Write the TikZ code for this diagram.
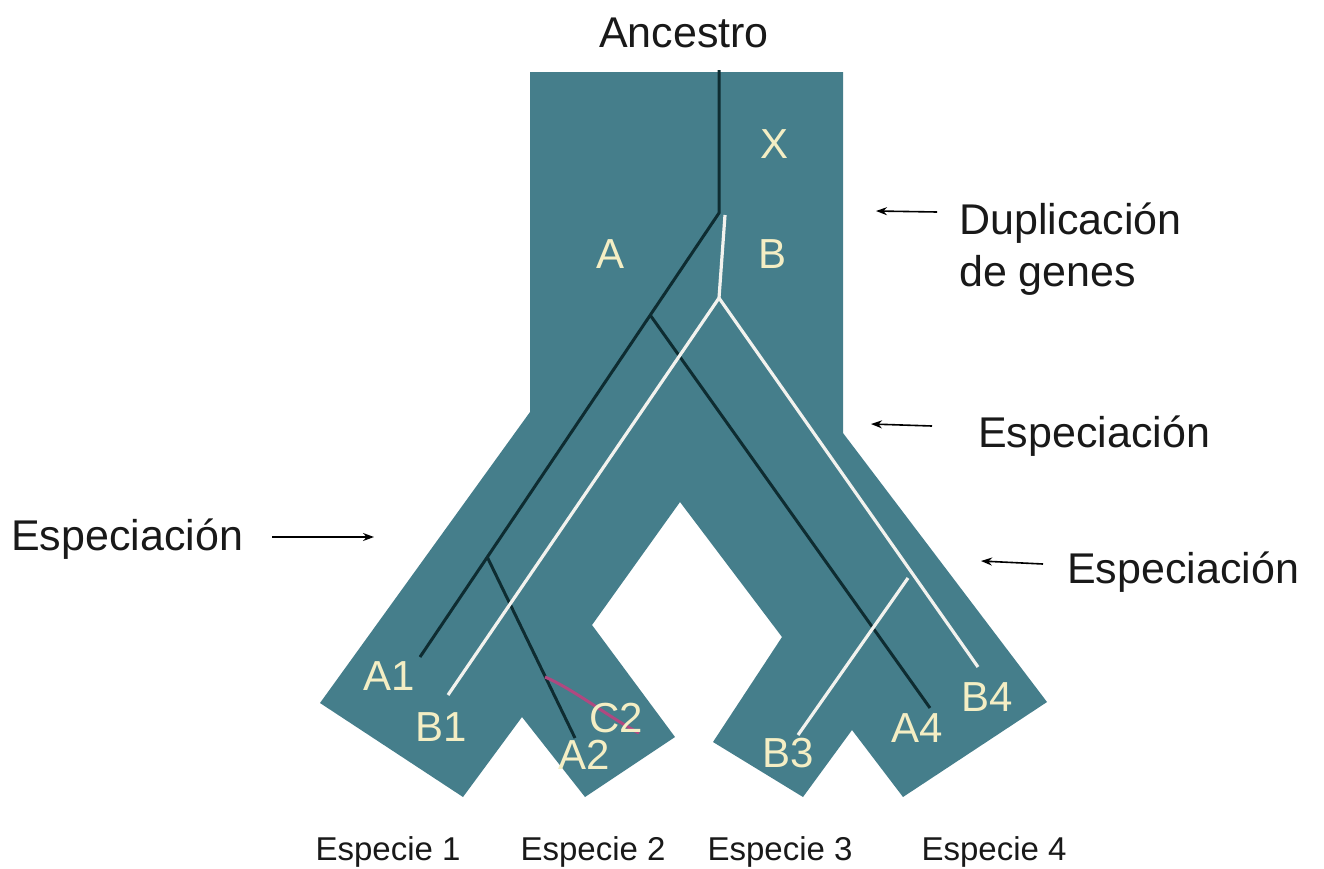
\documentclass[tikz,border=0pt]{standalone}
\usepackage{fontspec}
\setmainfont{Liberation Sans}
\usetikzlibrary{arrows.meta,calc}

\definecolor{branchteal}{HTML}{457E8B}
\definecolor{genedark}{HTML}{0E2C31}
\definecolor{genelight}{HTML}{F2F2EE}
\definecolor{labelcream}{HTML}{F4EEC4}
\definecolor{geneplum}{HTML}{B04880}

\tikzset{
  bigtext/.style={font=\fontsize{43}{50}\selectfont, inner sep=0pt, text=black!90},
  smalltext/.style={font=\fontsize{33}{40}\selectfont, inner sep=0pt, text=black!90},
  genelabel/.style={font=\fontsize{42}{48}\selectfont, inner sep=0pt, text=labelcream},
  darkgene/.style={draw=genedark, line width=3pt},
  lightgene/.style={draw=genelight, line width=3.2pt},
  pointer/.style={draw=black, line width=1.6pt, -{Stealth[length=11pt,width=8pt]}}
}

\begin{document}
\begin{tikzpicture}[x=1pt,y=-1pt]
\useasboundingbox (0,0) rectangle (1324,868);

% species tree outline
\fill[branchteal] (530,72) -- (843,72) -- (843,433) -- (1047,702) -- (903,797)
  -- (852,730) -- (803,797) -- (713,742) -- (782,637) -- (680,502)
  -- (592,625) -- (675,737) -- (585,797) -- (522,717) -- (463,797)
  -- (320,703) -- (530,412) -- cycle;

% gene lineage A (dark)
\coordinate (root) at (719,70);
\coordinate (dup) at (719,213);
\coordinate (a1end) at (420,657);
\coordinate (splitA) at ($(dup)!0.23!(a1end)$);
\coordinate (splitA1) at ($(dup)!0.775!(a1end)$);
\coordinate (a2end) at (575,738);
\coordinate (a4end) at (930,708);
\draw[darkgene] (root) -- (dup) -- (a1end);
\draw[darkgene] (splitA) -- (a4end);
\draw[darkgene] (splitA1) -- (a2end);

% gene lineage B (light)
\coordinate (bstart) at (725,215);
\coordinate (splitB) at (719,298);
\coordinate (b1end) at (448,695);
\coordinate (b4end) at (978,667);
\coordinate (b3start) at (908,578);
\coordinate (b3end) at (798,735);
\draw[lightgene] (bstart) -- (splitB) -- (b1end);
\draw[lightgene] (splitB) -- (b4end);
\draw[lightgene] (b3start) -- (b3end);

% gene C2
\coordinate (c2start) at (545,677);
\coordinate (c2end) at (639,733);
\draw[geneplum, line width=3pt] (c2start) .. controls (575,690) and (610,718) .. (c2end);

% gene labels
\node[genelabel] (lx) at (774,144) {X};
\node[genelabel] (la) at (610,254) {A};
\node[genelabel] (lb) at (772,254) {B};
\node[genelabel] (la1) at (389,676) {A1};
\node[genelabel] (lb1) at (441,727) {B1};
\node[genelabel] (la2) at (584,755) {A2};
\node[genelabel] (lc2) at (616,718) {C2};
\node[genelabel] (lb3) at (788,753) {B3};
\node[genelabel] (la4) at (917,728) {A4};
\node[genelabel] (lb4) at (987,697) {B4};

% event labels
\node[bigtext, anchor=base] (anc) at (684,47) {Ancestro};
\node[bigtext, anchor=base west] (dupl) at (959,234) {Duplicación};
\node[bigtext, anchor=base west] (dupl2) at (959,286) {de genes};
\node[bigtext, anchor=base west] (spec1) at (978,447) {Especiación};
\node[bigtext, anchor=base west] (spec2) at (1067,583) {Especiación};
\node[bigtext, anchor=base west] (spec3) at (11,550) {Especiación};

% event pointers
\coordinate (pdup) at (876,211);
\coordinate (pspec1) at (871,424);
\coordinate (pspec2) at (981,561);
\coordinate (pspec3) at (374,537);
\draw[pointer] (937,212) -- (pdup);
\draw[pointer] (932,426) -- (pspec1);
\draw[pointer] (1043,564) -- (pspec2);
\draw[pointer] (272,537) -- (pspec3);

% species names
\node[smalltext, anchor=base] (sp1) at (388,860) {Especie 1};
\node[smalltext, anchor=base] (sp2) at (593,860) {Especie 2};
\node[smalltext, anchor=base] (sp3) at (780,860) {Especie 3};
\node[smalltext, anchor=base] (sp4) at (994,860) {Especie 4};
\end{tikzpicture}
\end{document}
